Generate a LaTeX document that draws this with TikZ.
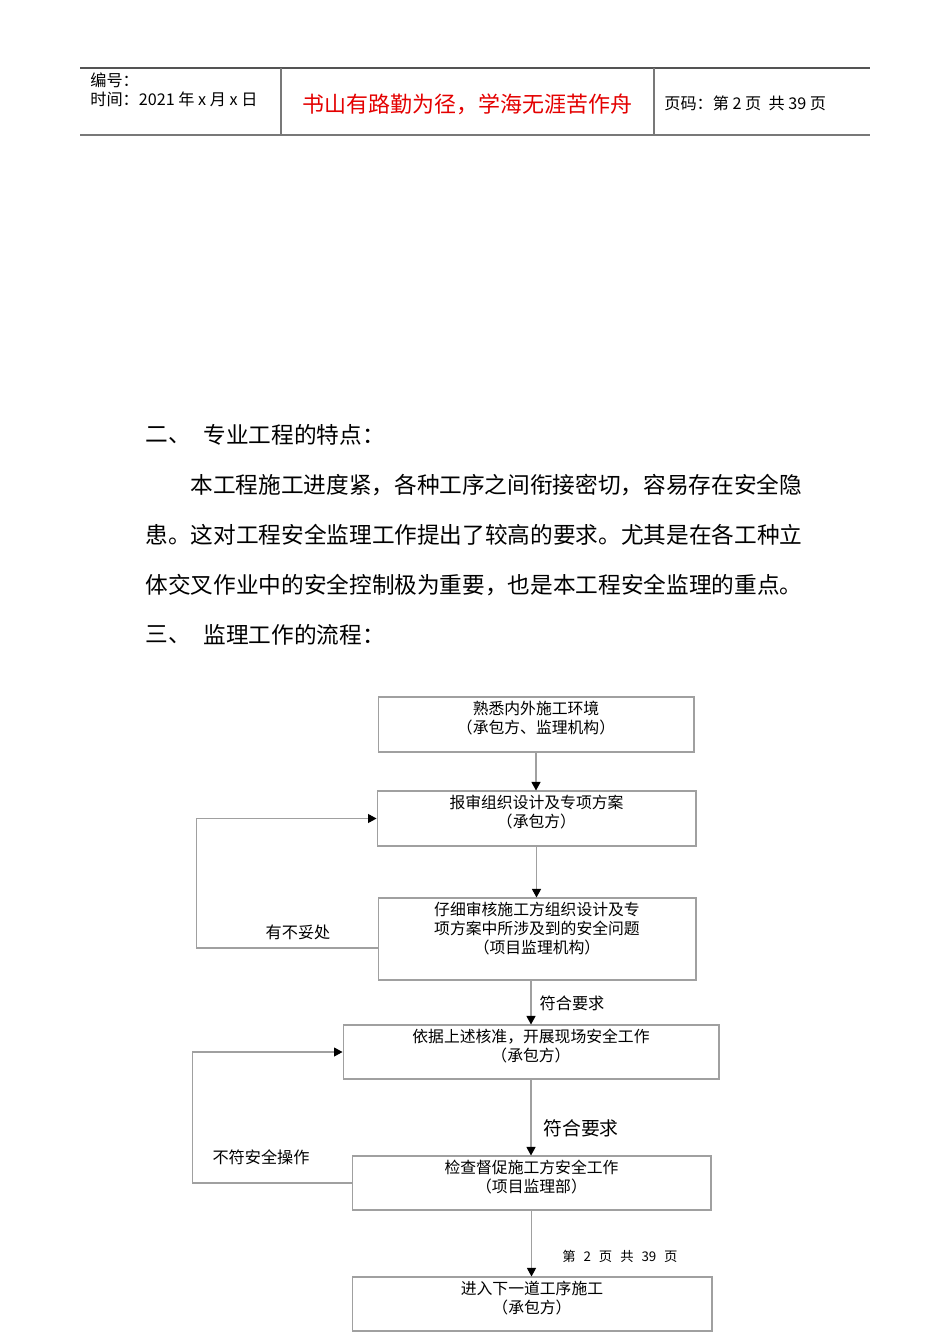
\documentclass[tikz,border=0pt]{standalone}
\usepackage{fontspec}
\setmainfont{Noto Sans CJK SC}
\usetikzlibrary{arrows.meta, positioning}
\definecolor{boxgray}{RGB}{160,160,160}
\definecolor{rulegray}{RGB}{120,120,120}
\definecolor{mottored}{RGB}{228,0,0}

\begin{document}
\begin{tikzpicture}[
    x=0.02cm, y=-0.02cm,
    flowbox/.style={draw=boxgray, line width=0.6pt, inner sep=0pt},
    boxtext/.style={anchor=north, align=center, inner sep=0pt, font=\fontsize{9}{10.8}\selectfont},
    flowarrow/.style={draw=boxgray, line width=0.6pt, -{Triangle[length=1.7mm, width=1.8mm, color=black]}},
    looplabel/.style={inner sep=0pt, font=\fontsize{9.2}{11}\selectfont},
    bodyline/.style={anchor=west, inner sep=0pt, font=\fontsize{12.9}{15}\selectfont},
    headtext/.style={anchor=west, inner sep=0pt, font=\fontsize{9.2}{11}\selectfont},
    ]
    \useasboundingbox[fill=white] (0,0) rectangle (950,1344);

    % page header table
    \draw[line width=0.6pt, rulegray!70!black] (80,68) -- (870,68);
    \draw[line width=1.2pt, rulegray] (80,135) -- (870,135);
    \draw[line width=0.6pt, rulegray] (281,68) -- (281,135);
    \draw[line width=0.6pt, rulegray] (654,68) -- (654,135);
    \node[headtext] (docno) at (90,80) {编号：};
    \node[headtext] (docdate) at (90,99) {时间：2021 年 x 月 x 日};
    \node[inner sep=0pt, text=mottored, font=\fontsize{12.5}{14}\selectfont] (motto) at (467.5,104) {书山有路勤为径，学海无涯苦作舟};
    \node[headtext] (pageno) at (664,103) {页码：第 2 页\ \ 共 39 页};

    % body text
    \node[bodyline] (sec2num) at (145,435) {二、};
    \node[bodyline] (sec2) at (203,435) {专业工程的特点：};
    \node[bodyline] (para1) at (190,485) {本工程施工进度紧，各种工序之间衔接密切，容易存在安全隐};
    \node[bodyline] (para2) at (145,535) {患。这对工程安全监理工作提出了较高的要求。尤其是在各工种立};
    \node[bodyline] (para3) at (145,585) {体交叉作业中的安全控制极为重要，也是本工程安全监理的重点。};
    \node[bodyline] (sec3num) at (145,635) {三、};
    \node[bodyline] (sec3) at (203,635) {监理工作的流程：};

    % flow boxes
    \node[flowbox, minimum width=6.32cm, minimum height=1.1cm] (env) at (536,724.5) {};
    \node[flowbox, minimum width=6.38cm, minimum height=1.1cm] (submit) at (536.5,818.5) {};
    \node[flowbox, minimum width=6.36cm, minimum height=1.64cm] (review) at (537,939) {};
    \node[flowbox, minimum width=7.52cm, minimum height=1.08cm] (work) at (531,1052) {};
    \node[flowbox, minimum width=7.18cm, minimum height=1.08cm] (inspect) at (531.5,1183) {};
    \node[flowbox, minimum width=7.2cm, minimum height=1.08cm] (next) at (532,1304) {};

    \node[boxtext, below=2.5pt of env.north] (envtxt) {熟悉内外施工环境\\（承包方、监理机构）};
    \node[boxtext, below=2.5pt of submit.north] (submittxt) {报审组织设计及专项方案\\（承包方）};
    \node[boxtext, below=2.5pt of review.north] (reviewtxt) {仔细审核施工方组织设计及专\\项方案中所涉及到的安全问题\\（项目监理机构）};
    \node[boxtext, below=2.5pt of work.north] (worktxt) {依据上述核准，开展现场安全工作\\（承包方）};
    \node[boxtext, below=2.5pt of inspect.north] (inspecttxt) {检查督促施工方安全工作\\（项目监理部）};
    \node[boxtext, below=2.5pt of next.north] (nexttxt) {进入下一道工序施工\\（承包方）};

    % main flow
    \draw[flowarrow] (env.south) -- (env.south |- submit.north);
    \draw[flowarrow] (submit.south) -- (submit.south |- review.north);
    \draw[flowarrow] (work.north |- review.south) -- (work.north);
    \draw[flowarrow] (work.south) -- (work.south |- inspect.north);
    \draw[flowarrow] (inspect.south) -- (inspect.south |- next.north);

    % feedback loops
    \draw[flowarrow] ([yshift=-0.18cm]review.west) -- ++(-181,0) |- (submit.west);
    \draw[flowarrow] (inspect.west) -- ++(-159,0) |- (work.west);

    % connector labels
    \node[looplabel] (notok) at (298,932) {有不妥处};
    \node[looplabel] (unsafe) at (261,1157) {不符安全操作};
    \node[looplabel] (ok1) at (572,1003) {符合要求};
    \node[looplabel, font=\fontsize{10.7}{12}\selectfont] (ok2) at (581,1128) {符合要求};
    \node[looplabel, font=\fontsize{7.6}{9}\selectfont] (footer) at (620,1256)
        {第\hspace{4.5pt}2\hspace{4.5pt}页\hspace{4.5pt}共\hspace{4.5pt}39\hspace{4.5pt}页};
\end{tikzpicture}
\end{document}
